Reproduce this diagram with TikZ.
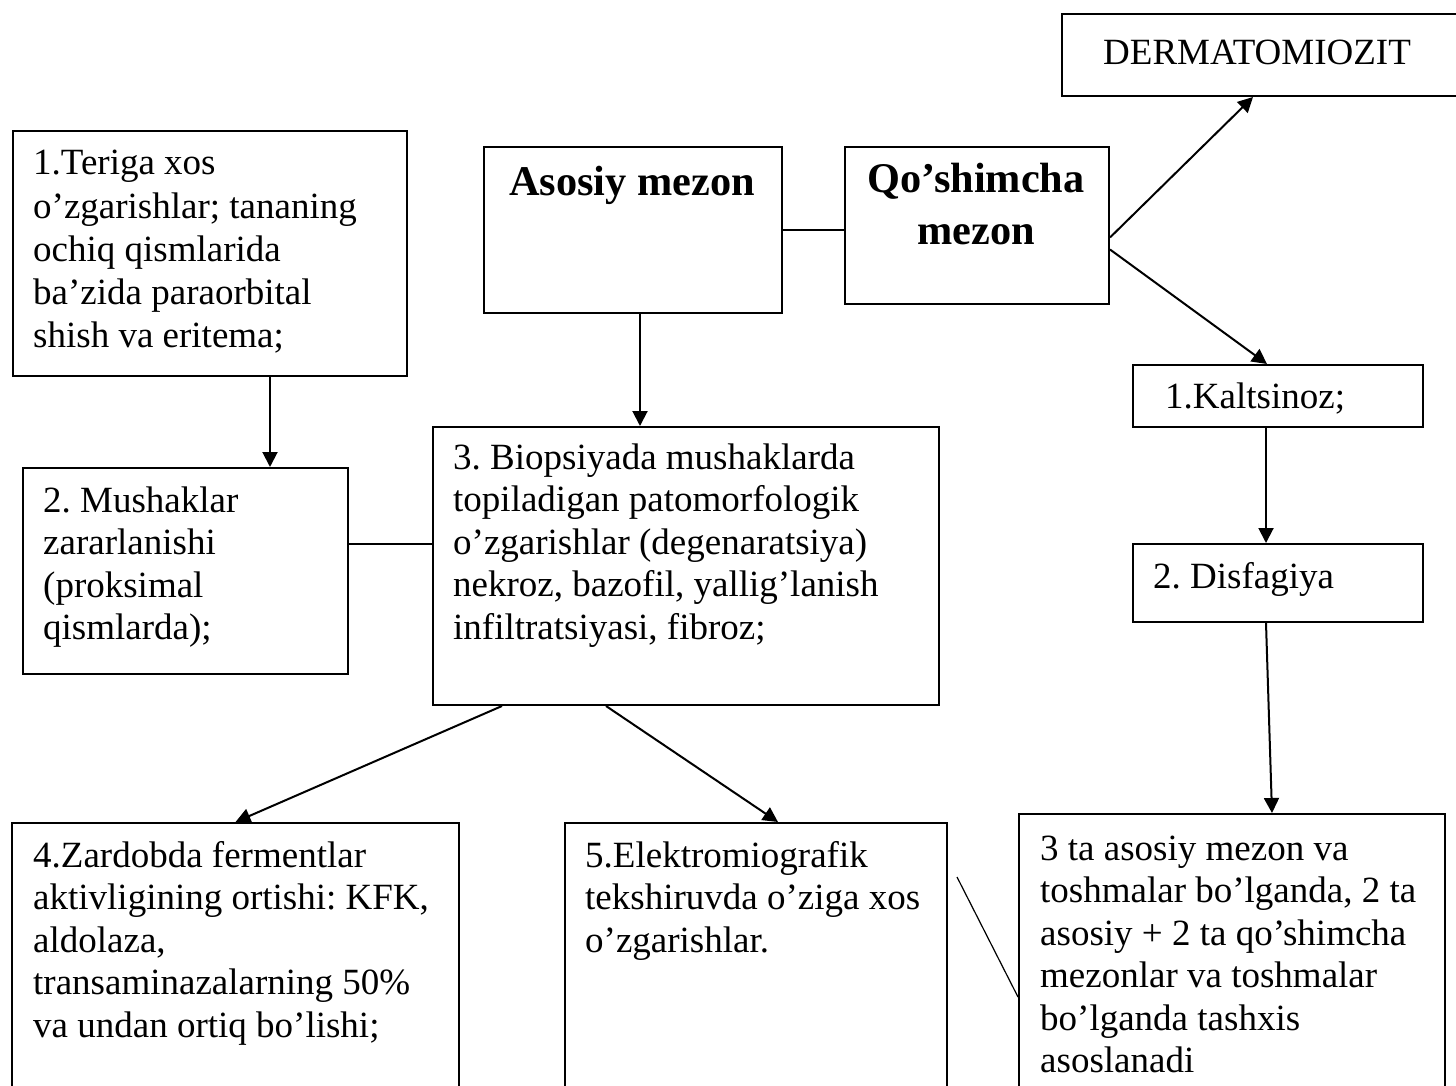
\documentclass[tikz,border=0pt]{standalone}
\usepackage{fontspec}
\setmainfont{Liberation Serif}
\usetikzlibrary{arrows.meta}
\frenchspacing
\newcommand{\txtfont}{\fontsize{37}{42.5}\selectfont}
\newcommand{\bldfont}{\fontsize{42.3}{52}\selectfont\bfseries}
\tikzset{
  box/.style={draw, line width=2pt, inner sep=0pt, anchor=north west},
  conn/.style={line width=2pt},
  arr/.style={conn, -{Triangle[length=15pt,width=15pt]}},
  thin conn/.style={line width=1.2pt},
  txt/.style={inner sep=0pt, anchor=base west, font=\txtfont},
  bld/.style={inner sep=0pt, anchor=base, font=\bldfont},
}
\begin{document}
\begin{tikzpicture}[x=1pt,y=-1pt]
\useasboundingbox (0,0) rectangle (1456,1086);
\clip (0,0) rectangle (1456,1086);
% boxes
\node[box, minimum width=420pt, minimum height=82pt] (derm) at (1061,13) {};
\node[box, minimum width=394pt, minimum height=245pt] (teriga) at (12,130) {};
\node[box, minimum width=298pt, minimum height=166pt] (asosiy) at (483,146) {};
\node[box, minimum width=264pt, minimum height=157pt] (qosh) at (844,146) {};
\node[box, minimum width=290pt, minimum height=62pt] (kalts) at (1132,364) {};
\node[box, minimum width=290pt, minimum height=78pt] (disf) at (1132,543) {};
\node[box, minimum width=325pt, minimum height=206pt] (mush) at (22,467) {};
\node[box, minimum width=506pt, minimum height=278pt] (bio) at (432,426) {};
\node[box, minimum width=447pt, minimum height=300pt] (zard) at (11,822) {};
\node[box, minimum width=382pt, minimum height=300pt] (elek) at (564,822) {};
\node[box, minimum width=426pt, minimum height=300pt] (tta) at (1018,813) {};
% texts
\node[txt] (tderm) at (1103,65) {DERMATOMIOZIT};
\node[txt, font=\fontsize{37}{43.2}\selectfont] (tter) at (33,175) {\begin{tabular}[t]{@{}l@{}}1.Teriga xos\\o’zgarishlar; tananing\\ochiq qismlarida\\ba’zida paraorbital\\shish va eritema;\end{tabular}};
\node[bld] (tasos) at (632,196) {Asosiy mezon};
\node[bld] (tqosh) at (976,193) {\begin{tabular}[t]{@{}c@{}}Qo’shimcha\\mezon\end{tabular}};
\node[txt] (tkal) at (1165,408) {1.Kaltsinoz;};
\node[txt] (tdis) at (1153,588) {2. Disfagiya};
\node[txt] (tmush) at (43,512) {\begin{tabular}[t]{@{}l@{}}2. Mushaklar\\zararlanishi\\(proksimal\\qismlarda);\end{tabular}};
\node[txt] (tbio) at (453,469) {\begin{tabular}[t]{@{}l@{}}3. Biopsiyada mushaklarda\\topiladigan patomorfologik\\o’zgarishlar (degenaratsiya)\\nekroz, bazofil, yallig’lanish\\infiltratsiyasi, fibroz;\end{tabular}};
\node[txt] (tzard) at (33,867) {\begin{tabular}[t]{@{}l@{}}4.Zardobda fermentlar\\aktivligining ortishi: KFK,\\aldolaza,\\transaminazalarning 50\%\\va undan ortiq bo’lishi;\end{tabular}};
\node[txt] (telek) at (585,867) {\begin{tabular}[t]{@{}l@{}}5.Elektromiografik\\tekshiruvda o’ziga xos\\o’zgarishlar.\end{tabular}};
\node[txt] (ttta) at (1040,860) {\begin{tabular}[t]{@{}l@{}}3 ta asosiy mezon va\\toshmalar bo’lganda, 2 ta\\asosiy + 2 ta qo’shimcha\\mezonlar va toshmalar\\bo’lganda tashxis\\asoslanadi\end{tabular}};
% connectors
\draw[conn] (asosiy.east) -- (asosiy.east -| qosh.west);
\draw[arr] ([yshift=-12pt]qosh.east) -- ([xshift=-19pt]derm.south);
\draw[arr] ([yshift=-24pt]qosh.east) -- ([xshift=-11pt]kalts.north);
\draw[arr] ([xshift=-12pt]kalts.south) -- ([xshift=-12pt]disf.north);
\draw[arr] ([xshift=-12pt]disf.south) -- ([xshift=40pt]tta.north);
\draw[arr] ([xshift=60pt]teriga.south) -- ([xshift=84.5pt]mush.north);
\draw[arr] ([xshift=7pt]asosiy.south) -- ([xshift=-46pt]bio.north);
\draw[conn] ([yshift=27pt]mush.east) -- ([yshift=27pt]mush.east -| bio.west);
\draw[arr] ([xshift=-184pt]bio.south) -- (zard.north);
\draw[arr] ([xshift=-80pt]bio.south) -- ([xshift=22pt]elek.north);
\coordinate (c1) at ([xshift=9pt,yshift=-55pt]elek.north east);
\draw[thin conn] (c1) -- ([yshift=-184pt]tta.north west);
\end{tikzpicture}
\end{document}
